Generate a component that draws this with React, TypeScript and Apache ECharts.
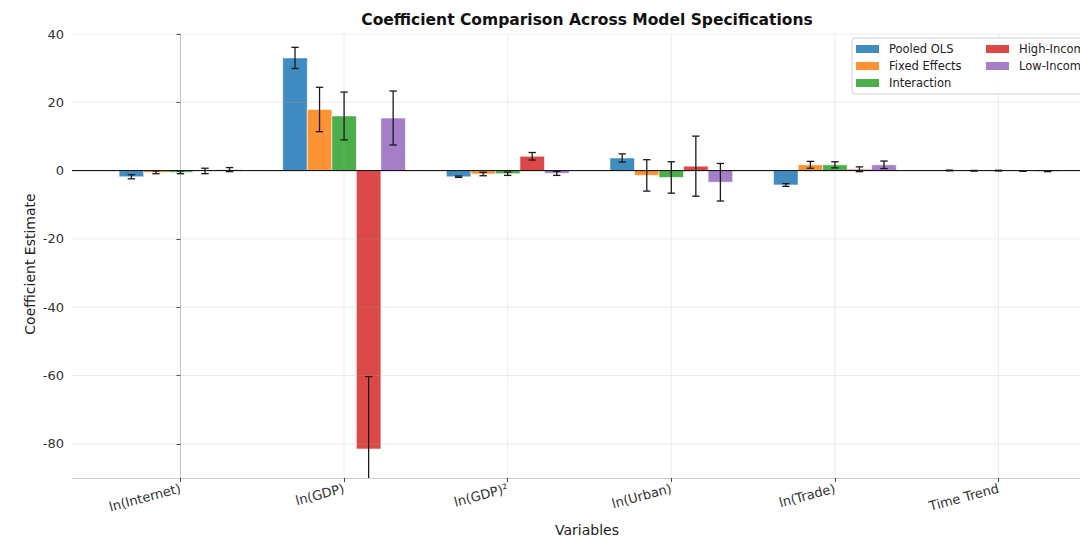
import React, { useEffect, useRef } from "react";
import * as echarts from "echarts";

const categories = ["ln(Internet)", "ln(GDP)", "ln(GDP)²", "ln(Urban)", "ln(Trade)", "Time Trend"];
const seriesNames = ["Pooled OLS", "Fixed Effects", "Interaction", "High-Income", "Low-Income"];
const seriesColors = [
  "rgba(31,119,180,0.85)",
  "rgba(255,127,14,0.85)",
  "rgba(44,160,44,0.85)",
  "rgba(214,39,40,0.85)",
  "rgba(148,103,189,0.85)",
];

const pooledOLS = [-1.8, 33.0, -1.8, 3.7, -4.2, 0.05];
const pooledOLSErr = [0.6, 3.1, 0.2, 1.2, 0.4, 0.1];
const fixedEffects = [-0.5, 17.9, -1.0, -1.4, 1.7, -0.05];
const fixedEffectsErr = [0.4, 6.5, 0.5, 4.6, 1.0, 0.1];
const interaction = [-0.5, 16.0, -0.9, -2.0, 1.7, 0.0];
const interactionErr = [0.4, 7.0, 0.5, 4.6, 0.9, 0.1];
const highIncome = [-0.1, -81.5, 4.2, 1.3, 0.4, -0.1];
const highIncomeErr = [0.8, 21.2, 1.1, 8.8, 0.7, 0.1];
const lowIncome = [0.3, 15.4, -0.8, -3.4, 1.7, -0.2];
const lowIncomeErr = [0.6, 7.9, 0.6, 5.5, 1.1, 0.1];

const yTicks = [-80, -60, -40, -20, 0, 20, 40];
const xTicks = [0, 1, 2, 3, 4, 5];

const Y_MIN = -90;
const Y_MAX = 40;
const X_MIN = -0.663;
const X_MAX = 5.663;
const BAR_W = 0.15;
const FONT = "DejaVu Sans";

const values = [pooledOLS, fixedEffects, interaction, highIncome, lowIncome];
const errors = [pooledOLSErr, fixedEffectsErr, interactionErr, highIncomeErr, lowIncomeErr];

export default function App() {
  const ref = useRef<HTMLDivElement>(null);

  useEffect(() => {
    if (!ref.current) return;
    const chart = echarts.init(ref.current, null, { renderer: "svg" });

    const barSeries = values.map((vals, idx) => ({
      type: "custom",
      name: seriesNames[idx],
      coordinateSystem: "cartesian2d",
      itemStyle: { color: seriesColors[idx] },
      encode: { x: 0, y: 1 },
      z: 2,
      silent: true,
      data: vals.map((v, i) => [i, v]),
      renderItem: (params: any, api: any) => {
        const c = api.value(0) + (idx - 2) * BAR_W;
        const v = api.value(1);
        const a = api.coord([c - BAR_W / 2, 0]);
        const b = api.coord([c + BAR_W / 2, v]);
        return {
          type: "rect",
          shape: {
            x: a[0],
            y: Math.min(a[1], b[1]),
            width: b[0] - a[0],
            height: Math.abs(b[1] - a[1]),
          },
          style: { fill: seriesColors[idx], stroke: "rgba(255,255,255,0.7)", lineWidth: 0.8 },
        };
      },
    }));

    const errSeries = values.map((vals, idx) => ({
      type: "custom",
      coordinateSystem: "cartesian2d",
      encode: { x: 0, y: 1 },
      z: 5,
      silent: true,
      data: vals.map((v, i) => [i, v, errors[idx][i]]),
      renderItem: (params: any, api: any) => {
        const c = api.value(0) + (idx - 2) * BAR_W;
        const v = api.value(1);
        const e = api.value(2);
        const hi = Math.min(v + e, Y_MAX);
        const lo = Math.max(v - e, Y_MIN);
        const pHi = api.coord([c, hi]);
        const pLo = api.coord([c, lo]);
        const cap = 3.7;
        const st = { stroke: "#1a1a1a", lineWidth: 1.3 };
        const children: any[] = [
          { type: "line", shape: { x1: pHi[0], y1: pHi[1], x2: pLo[0], y2: pLo[1] }, style: st },
        ];
        if (v + e <= Y_MAX)
          children.push({ type: "line", shape: { x1: pHi[0] - cap, y1: pHi[1], x2: pHi[0] + cap, y2: pHi[1] }, style: st });
        if (v - e >= Y_MIN)
          children.push({ type: "line", shape: { x1: pLo[0] - cap, y1: pLo[1], x2: pLo[0] + cap, y2: pLo[1] }, style: st });
        return { type: "group", children };
      },
    }));

    const gridH = {
      type: "custom",
      coordinateSystem: "cartesian2d",
      encode: { x: 0, y: 1 },
      z: 3,
      silent: true,
      data: yTicks.map((t) => [0, t]),
      renderItem: (params: any, api: any) => {
        const cs = params.coordSys;
        const y = api.coord([0, api.value(1)])[1];
        return {
          type: "line",
          shape: { x1: cs.x, y1: y, x2: cs.x + cs.width, y2: y },
          style: { stroke: "rgba(176,176,176,0.3)", lineWidth: 0.8 },
        };
      },
    };

    const gridV = {
      type: "custom",
      coordinateSystem: "cartesian2d",
      encode: { x: 0, y: 1 },
      z: 3,
      silent: true,
      data: xTicks.map((t) => [t, 0]),
      renderItem: (params: any, api: any) => {
        const cs = params.coordSys;
        const x = api.coord([api.value(0), 0])[0];
        return {
          type: "line",
          shape: { x1: x, y1: cs.y, x2: x, y2: cs.y + cs.height },
          style: { stroke: "rgba(176,176,176,0.3)", lineWidth: 0.8 },
        };
      },
    };

    const zeroLine = {
      type: "custom",
      coordinateSystem: "cartesian2d",
      encode: { x: 0, y: 1 },
      z: 4,
      silent: true,
      data: [[0, 0]],
      renderItem: (params: any, api: any) => {
        const cs = params.coordSys;
        const y = api.coord([0, api.value(1)])[1];
        return {
          type: "line",
          shape: { x1: cs.x, y1: y, x2: cs.x + cs.width, y2: y },
          style: { stroke: "#000", lineWidth: 1 },
        };
      },
    };

    const legendCommon = {
      orient: "vertical",
      icon: "rect",
      itemWidth: 23,
      itemHeight: 8,
      itemGap: 5,
      padding: 0,
      z: 11,
      selectedMode: false,
      textStyle: { fontFamily: FONT, fontSize: 11.5, color: "#222", padding: [0, 0, 0, 5] },
    };

    chart.setOption({
      animation: false,
      backgroundColor: "#fff",
      grid: { left: 72, top: 34, width: 1035, height: 444, containLabel: false },
      xAxis: {
        type: "value",
        min: X_MIN,
        max: X_MAX,
        splitLine: { show: false },
        axisLine: { show: true, onZero: false, lineStyle: { color: "#cccccc", width: 1 } },
        axisTick: { show: true, customValues: xTicks, length: 4, lineStyle: { color: "#444" } },
        axisLabel: {
          customValues: xTicks,
          formatter: (v: number) => categories[Math.round(v)] ?? "",
          rotate: 15,
          margin: 10,
          fontFamily: FONT,
          fontSize: 13,
          color: "#333",
        },
      },
      yAxis: {
        type: "value",
        min: Y_MIN,
        max: Y_MAX,
        splitLine: { show: false },
        axisLine: { show: true, lineStyle: { color: "#cccccc", width: 1 } },
        axisTick: { show: true, customValues: yTicks, length: 4, lineStyle: { color: "#444" } },
        axisLabel: {
          customValues: yTicks,
          margin: 8,
          fontFamily: FONT,
          fontSize: 13,
          color: "#333",
        },
      },
      legend: [
        { ...legendCommon, left: 856, top: 43, data: seriesNames.slice(0, 3) },
        { ...legendCommon, left: 986, top: 43, data: seriesNames.slice(3) },
      ],
      graphic: [
        {
          type: "rect",
          z: 10,
          shape: { x: 852, y: 38, width: 250, height: 56, r: 3 },
          style: { fill: "rgba(255,255,255,0.8)", stroke: "#d0d0d0", lineWidth: 1 },
        },
        {
          type: "text",
          x: 587,
          y: 20,
          style: {
            text: "Coefficient Comparison Across Model Specifications",
            font: `bold 15.5px "${FONT}"`,
            fill: "#111",
            textAlign: "center",
            textVerticalAlign: "middle",
          },
        },
        {
          type: "text",
          x: 30,
          y: 264,
          rotation: Math.PI / 2,
          style: {
            text: "Coefficient Estimate",
            font: `14px "${FONT}"`,
            fill: "#222",
            textAlign: "center",
            textVerticalAlign: "middle",
          },
        },
        {
          type: "text",
          x: 587,
          y: 530,
          style: {
            text: "Variables",
            font: `14px "${FONT}"`,
            fill: "#222",
            textAlign: "center",
            textVerticalAlign: "middle",
          },
        },
      ],
      series: [...barSeries, gridH, gridV, zeroLine, ...errSeries],
    } as any);

    return () => chart.dispose();
  }, []);

  return (
    <div style={{ position: "absolute", left: 0, top: 0, width: 1080, height: 538, overflow: "hidden" }}>
      <div ref={ref} style={{ width: 1110, height: 538 }} />
    </div>
  );
}
